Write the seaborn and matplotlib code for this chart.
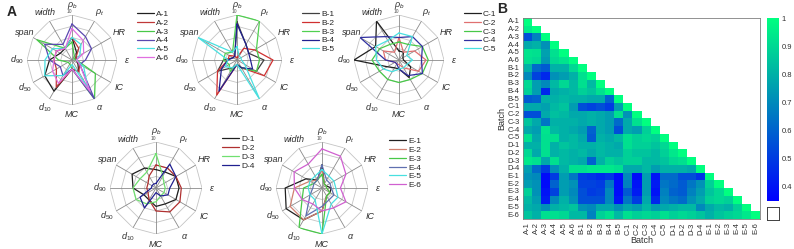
import numpy as np
import pandas as pd
import matplotlib
matplotlib.use("Agg")
import matplotlib.pyplot as plt
import seaborn as sns

# radar spokes, clockwise from the top
spoke_labels = [r"$\rho_b$", r"$\rho_t$", "HR", "ε", "IC", "α", "MC",
                r"$d_{10}$", r"$d_{50}$", r"$d_{90}$", "span", "width"]

A_names = ["A-1", "A-2", "A-3", "A-4", "A-5", "A-6"]
A_colors = ["#202020", "#c03838", "#48c848", "#5a48b0", "#48e0e0", "#e070e0"]
A_values = [
    [5, 2, 1, 1, 1.5, 3, 2, 8, 7, 5, 3, 3],
    [5, 3, 1, 1, 2, 3, 2, 7, 4, 4, 4, 3],
    [4, 1, 0.5, 1, 6, 10, 2, 1, 1, 3, 9, 3],
    [8, 6, 5, 3, 2, 10, 2, 4, 3, 5, 7, 4],
    [5, 4, 2, 1, 3, 7, 1, 4, 7, 6, 5, 3],
    [7, 5, 3, 1, 2, 8, 2, 6, 5, 4, 4, 3],
]

B_names = ["B-1", "B-2", "B-3", "B-4", "B-5"]
B_colors = ["#404040", "#d03030", "#50d050", "#202090", "#48e0e0"]
B_values = [
    [8.5, 4, 3, 6, 5, 2, 1, 2, 5, 3, 1, 1],
    [0.5, 3, 4.5, 8, 7, 2, 1, 9, 5, 2, 2, 1],
    [10, 10, 5, 5, 5, 2, 1, 3, 2, 3, 3, 2],
    [8, 4, 3, 3, 4, 2, 1, 8, 4, 2, 1, 1],
    [3, 1, 1, 1, 2, 10, 1, 2, 3, 2, 10, 2],
]

C_names = ["C-1", "C-2", "C-3", "C-4", "C-5"]
C_colors = ["#202020", "#e07070", "#48c848", "#3030a0", "#48e0e0"]
C_values = [
    [2, 2, 1, 1, 3, 4.5, 2, 2, 3, 10, 6, 10],
    [5, 2, 4, 6, 5, 2, 1, 1, 1, 3, 4, 2],
    [4, 4, 6, 6.5, 6, 5, 5, 5, 5, 6, 5, 4],
    [5, 6, 6, 5, 6, 4, 2, 1, 1, 3, 10, 6],
    [6, 6, 2, 3, 2, 2, 2, 3, 4, 5, 6, 5],
]

D_names = ["D-1", "D-2", "D-3", "D-4"]
D_colors = ["#202020", "#b03030", "#70e070", "#202090"]
D_values = [
    [4, 4, 5, 5, 5, 4, 4, 3, 3, 5, 6, 5],
    [5, 5, 5, 5.5, 6, 6, 5, 3, 2, 2, 2, 3],
    [7.5, 3, 2, 2, 2, 2, 3, 4, 5, 5, 4, 4],
    [1, 6, 5, 3, 3, 2, 1, 5, 4, 1, 1, 1],
]

E_names = ["E-1", "E-2", "E-3", "E-4", "E-5", "E-6"]
E_colors = ["#202020", "#d08070", "#48c848", "#6070b0", "#48e0e0", "#d060d0"]
E_values = [
    [5, 1, 1, 2, 2, 2, 5, 8, 9, 8, 4, 2],
    [4, 1, 1, 1, 2, 2, 5, 8, 8, 6, 3, 2],
    [3, 1, 1, 1, 2, 2, 10, 10, 5, 4, 2, 2],
    [5, 2, 2, 2, 3, 3, 4, 7, 3, 2, 2, 2],
    [4, 3, 3, 3, 4, 4, 10, 3, 3, 3, 3, 3],
    [8.5, 8, 6, 4, 6, 5, 5, 4, 5, 6, 7, 6],
]

batches = A_names + B_names + C_names + D_names + E_names

# lower triangle (incl. diagonal) of the similarity matrix, row by row
similarity_rows = [
    [1],
    [0.95, 1],
    [0.55, 0.68, 1],
    [0.78, 0.8, 0.72, 1],
    [0.93, 0.92, 0.76, 0.92, 1],
    [0.92, 0.9, 0.74, 0.9, 0.93, 1],
    [0.8, 0.62, 0.58, 0.8, 0.8, 0.9, 1],
    [0.7, 0.52, 0.45, 0.72, 0.75, 0.8, 0.92, 1],
    [0.9, 0.75, 0.7, 0.82, 0.9, 0.82, 0.92, 0.82, 1],
    [0.88, 0.75, 0.45, 0.78, 0.8, 0.82, 0.88, 0.85, 0.92, 1],
    [0.58, 0.6, 0.8, 0.8, 0.82, 0.8, 0.8, 0.78, 0.78, 0.6, 1],
    [0.78, 0.78, 0.76, 0.82, 0.85, 0.75, 0.55, 0.52, 0.55, 0.5, 0.75, 1],
    [0.55, 0.55, 0.78, 0.84, 0.82, 0.78, 0.78, 0.8, 0.78, 0.75, 0.92, 0.72, 1],
    [0.85, 0.78, 0.65, 0.8, 0.8, 0.8, 0.78, 0.8, 0.78, 0.75, 0.62, 0.78, 0.92, 1],
    [0.78, 0.75, 0.93, 0.82, 0.8, 0.78, 0.75, 0.6, 0.78, 0.75, 0.55, 0.78, 0.75, 0.88, 1],
    [0.92, 0.78, 0.92, 0.92, 0.8, 0.82, 0.78, 0.58, 0.8, 0.78, 0.82, 0.92, 0.88, 0.9, 0.88, 1],
    [0.8, 0.8, 0.92, 0.8, 0.85, 0.82, 0.8, 0.8, 0.82, 0.8, 0.78, 0.92, 0.88, 0.88, 0.85,
     0.9, 1],
    [0.9, 0.78, 0.92, 0.8, 0.82, 0.8, 0.82, 0.78, 0.82, 0.8, 0.8, 0.88, 0.85, 0.85, 0.82,
     0.88, 0.94, 1],
    [0.94, 0.92, 0.78, 0.92, 0.82, 0.8, 0.78, 0.6, 0.8, 0.88, 0.85, 0.88, 0.88, 0.82, 0.82,
     0.85, 0.9, 0.92, 1],
    [0.75, 0.62, 0.5, 0.72, 0.8, 0.92, 0.92, 0.94, 0.94, 0.94, 0.92, 0.78, 0.78, 0.82, 0.75,
     0.8, 0.8, 0.8, 0.78, 1],
    [0.72, 0.7, 0.38, 0.5, 0.75, 0.65, 0.5, 0.48, 0.45, 0.48, 0.38, 0.7, 0.38, 0.75, 0.4,
     0.62, 0.62, 0.55, 0.55, 0.48, 1],
    [0.75, 0.72, 0.38, 0.6, 0.75, 0.72, 0.52, 0.52, 0.5, 0.65, 0.38, 0.68, 0.4, 0.75, 0.42,
     0.65, 0.62, 0.58, 0.65, 0.72, 0.88, 1],
    [0.88, 0.72, 0.4, 0.52, 0.75, 0.7, 0.55, 0.5, 0.52, 0.7, 0.38, 0.58, 0.42, 0.75, 0.4,
     0.68, 0.6, 0.58, 0.68, 0.75, 0.85, 0.9, 1],
    [0.82, 0.75, 0.42, 0.7, 0.8, 0.72, 0.55, 0.55, 0.55, 0.7, 0.4, 0.65, 0.5, 0.78, 0.45,
     0.7, 0.65, 0.62, 0.72, 0.78, 0.88, 0.9, 0.88, 1],
    [0.8, 0.78, 0.72, 0.8, 0.82, 0.85, 0.72, 0.7, 0.78, 0.78, 0.72, 0.78, 0.75, 0.82, 0.75,
     0.78, 0.8, 0.82, 0.82, 0.7, 0.78, 0.82, 0.8, 0.88, 1],
    [0.85, 0.8, 0.92, 0.92, 0.9, 0.82, 0.82, 0.68, 0.88, 0.92, 0.82, 0.92, 0.88, 0.9, 0.88,
     0.92, 0.88, 0.9, 0.88, 0.85, 0.8, 0.85, 0.88, 0.9, 0.94, 1],
]
cbar_ticks = [0.4, 0.5, 0.6, 0.7, 0.8, 0.9, 1.0]
cbar_ticklabels = ["0.4", "0.5", "0.6", "0.7", "0.8", "0.9", "1"]

sns.set_style("white")
plt.rcParams["font.family"] = ["Liberation Sans", "DejaVu Sans"]
plt.rcParams["mathtext.fontset"] = "custom"
plt.rcParams["mathtext.rm"] = "Liberation Sans"
plt.rcParams["mathtext.it"] = "Liberation Sans:italic"

W, H = 794, 249
fig = plt.figure(figsize=(W / 100, H / 100), dpi=100)


def px_axes(x0, y0, w, h, **kw):
    # axes from pixel box (top-left origin)
    return fig.add_axes([x0 / W, 1 - (y0 + h) / H, w / W, h / H], **kw)


def radar(cx, cy, rad, names, colors, values, leg_x, leg_y):
    ax = px_axes(cx - rad, cy - rad, 2 * rad, 2 * rad, projection="polar")
    ax.set_theta_offset(np.pi / 2)
    ax.set_theta_direction(-1)
    ax.axis("off")
    theta = np.linspace(0, 2 * np.pi, 13)
    for r in [2.5, 5, 7.5, 10]:
        ax.plot(theta, [r] * 13, color="#c4c4c4", lw=0.6, zorder=1)
    for t in theta[:-1]:
        ax.plot([t, t], [0, 10], color="#8a8a8a", lw=0.6, zorder=1)
    for name, c, v in zip(names, colors, values):
        ax.plot(theta, v + v[:1], color=c, lw=0.9, label=name, zorder=3)
    ax.set_ylim(0, 10)
    for t, lab in zip(theta[:-1], spoke_labels):
        ax.text(t, 12.2, lab, ha="center", va="center", fontsize=6.5,
                style="italic", color="#303030")
    ax.text(-0.06, 10.15, "10", ha="center", va="bottom", fontsize=3.5, color="#505050")
    ax.legend(loc="upper left", bbox_to_anchor=(leg_x / W, 1 - leg_y / H),
              bbox_transform=fig.transFigure, frameon=False, fontsize=6,
              handlelength=2.0, labelspacing=0.12, borderpad=0,
              handletextpad=0.25)
    return ax


radar(72, 60, 45, A_names, A_colors, A_values, 133, 6)
radar(237, 60, 45, B_names, B_colors, B_values, 298, 6)
radar(399, 60, 45, C_names, C_colors, C_values, 460, 6)
radar(156, 188, 46, D_names, D_colors, D_values, 218, 131)
radar(322, 188, 46, E_names, E_colors, E_values, 385, 133)

fig.text(7 / W, 1 - 12 / H, "A", fontsize=10, fontweight="bold", va="center")
fig.text(497 / W, 1 - 9 / H, "B", fontsize=10, fontweight="bold", va="center")

# heatmap
n = len(batches)
mat = np.full((n, n), np.nan)
for i, row in enumerate(similarity_rows):
    mat[i, :len(row)] = row
sim = pd.DataFrame(mat, index=batches, columns=batches)

ax_h = px_axes(523, 18, 237, 201)
cax = px_axes(767, 18, 12, 183)
sns.heatmap(sim, ax=ax_h, cbar_ax=cax, cmap="winter", vmin=0.35, vmax=1.0,
            xticklabels=True, yticklabels=True,
            cbar_kws={"ticks": cbar_ticks})
for sp in ax_h.spines.values():
    sp.set_visible(True)
    sp.set_color("#808080")
    sp.set_linewidth(0.6)
ax_h.tick_params(axis="both", labelsize=5.5, length=1.5, pad=1, colors="#303030")
ax_h.set_xticklabels(batches, rotation=90)
ax_h.set_yticklabels(batches, rotation=0)
ax_h.set_xlabel("Batch", fontsize=6.5, labelpad=1, color="#303030")
ax_h.set_ylabel("Batch", fontsize=6.5, labelpad=1, color="#303030")

cax.set_yticklabels(cbar_ticklabels)
cax.tick_params(labelsize=5.5, length=0, pad=2, colors="#303030")

nan_ax = px_axes(767, 207, 12, 13)
nan_ax.set_xticks([])
nan_ax.set_yticks([])
for sp in nan_ax.spines.values():
    sp.set_visible(True)
    sp.set_color("#404040")
    sp.set_linewidth(0.7)

fig.savefig("out.png", dpi=100)
